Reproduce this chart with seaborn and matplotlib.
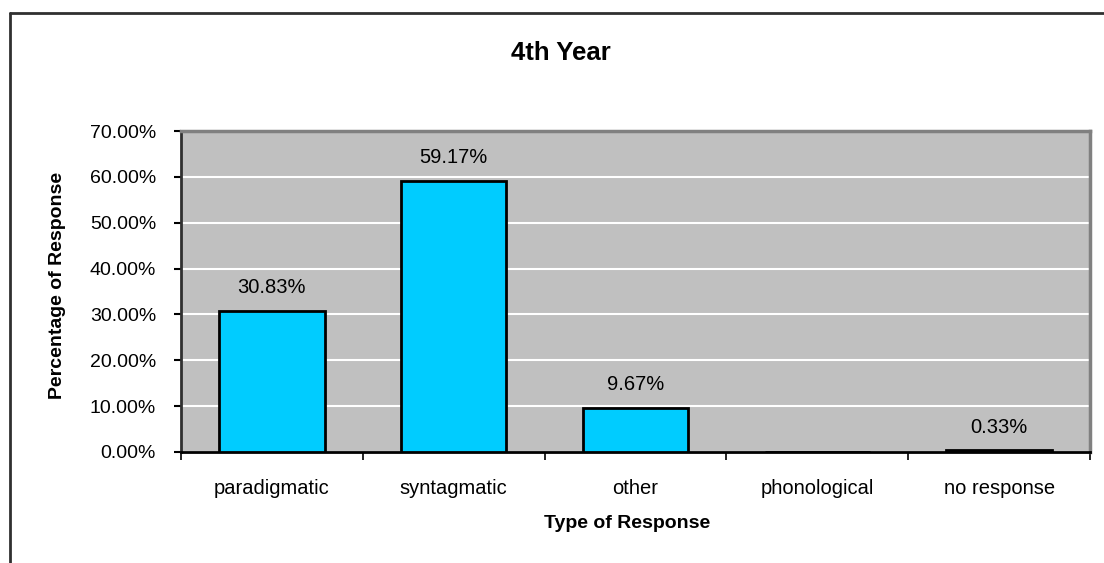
import matplotlib
matplotlib.use('Agg')
import matplotlib.pyplot as plt
import seaborn as sns
import pandas as pd
from matplotlib.ticker import FuncFormatter, FixedLocator
from matplotlib.lines import Line2D

categories = ["paradigmatic", "syntagmatic", "other", "phonological", "no response"]
values = [30.83, 59.17, 9.67, 0.0, 0.33]
bar_labels = ["30.83%", "59.17%", "9.67%", "", "0.33%"]
yticks = [0, 10, 20, 30, 40, 50, 60, 70]
title = "4th Year"
xlabel = "Type of Response"
ylabel = "Percentage of Response"

sns.set_theme(style="white")
plt.rcParams['font.family'] = ['Liberation Sans', 'DejaVu Sans']

W, H = 1104, 563
fig = plt.figure(figsize=(W / 100, H / 100), dpi=100)
fig.patch.set_facecolor('white')

L, R, T, B = 181, 1090, 131, 452
ax = fig.add_axes([L / W, 1 - B / H, (R - L) / W, (B - T) / H])

df = pd.DataFrame({"Type": categories, "Pct": values})
sns.barplot(data=df, x="Type", y="Pct", color="#00CCFF", saturation=1,
            edgecolor="black", linewidth=2, width=0.58, ax=ax, zorder=3)

ax.set_facecolor('#C0C0C0')
ax.set_ylim(0, 70)
ax.set_xlim(-0.5, len(categories) - 0.5)
ax.set_yticks(yticks)
ax.yaxis.set_major_formatter(FuncFormatter(lambda v, p: f"{v:.2f}%"))
ax.yaxis.grid(True, color='white', linewidth=1.5, zorder=0)
ax.xaxis.grid(False)
ax.set_axisbelow(True)

ax.tick_params(axis='y', which='major', direction='out', length=5, width=1.5,
               color='black', labelsize=14, labelcolor='black', pad=13, left=True)
ax.set_xticks(range(len(categories)))
ax.set_xticklabels(categories)
ax.tick_params(axis='x', which='major', length=0, labelsize=14.5, labelcolor='black', pad=19.5)
ax.xaxis.set_minor_locator(FixedLocator([i - 0.5 for i in range(len(categories) + 1)]))
ax.tick_params(axis='x', which='minor', direction='out', length=6, width=1.2,
               color='black', bottom=True)

for side in ['top', 'right']:
    ax.spines[side].set_color('#808080')
    ax.spines[side].set_linewidth(2.5)
ax.spines['left'].set_color('#303030')
ax.spines['left'].set_linewidth(2)
ax.spines['bottom'].set_color('black')
ax.spines['bottom'].set_linewidth(2)

for i, (v, lab) in enumerate(zip(values, bar_labels)):
    if lab:
        ax.annotate(lab, (i, v), xytext=(0, 16.5), textcoords='offset points',
                    ha='center', va='center', fontsize=14.5, color='black', zorder=5)

ax.set_xlabel(xlabel, fontsize=14, fontweight='bold', color='black')
ax.set_ylabel(ylabel, fontsize=14, fontweight='bold', color='black')
ax.xaxis.set_label_coords((627 - L) / (R - L), -(523 - B) / (B - T))
ax.xaxis.label.set_va('center')
ax.yaxis.set_label_coords(-(L - 57) / (R - L), (B - 285) / (B - T))
ax.yaxis.label.set_va('center')

fig.text(561 / W, 1 - 53 / H, title, ha='center', va='center',
         fontsize=18.5, fontweight='bold', color='black')

# outer chart border (top and left visible)
fig.add_artist(Line2D([10 / W, 1.0], [1 - 13 / H, 1 - 13 / H], transform=fig.transFigure,
                      color='#303030', linewidth=2))
fig.add_artist(Line2D([10 / W, 10 / W], [1 - 13 / H, 0.0], transform=fig.transFigure,
                      color='#303030', linewidth=2))

fig.savefig("out.png", dpi=100)
